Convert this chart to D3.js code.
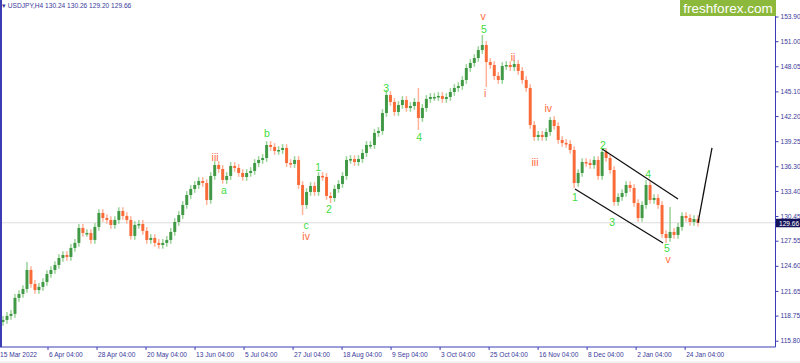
<!DOCTYPE html>
<html>
<head>
<meta charset="utf-8">
<script src="https://cdn.jsdelivr.net/npm/d3@7"></script>
<style>
body { margin:0; background:#fff; }
svg { display:block; }
text { font-family: "Liberation Sans", Arial, sans-serif; }
</style>
</head>
<body>
<div class="graphic"></div>
<script>
var W = 800, H = 363

// closes of each (grouped) H4 candle, USDJPY
var closes = [118.24,118.71,118.95,120.83,121.29,121.88,124.11,122.47,121.76,122.12,
  122.70,123.64,124.11,124.70,125.52,125.87,125.64,126.70,127.29,129.05,
  128.46,128.46,127.64,129.17,130.81,130.22,129.99,129.40,129.99,131.04,
  130.46,129.99,128.11,129.40,129.52,128.70,127.64,127.87,127.29,127.05,
  127.29,127.64,128.58,129.75,130.57,131.75,132.92,133.63,134.10,134.57,
  134.33,132.34,135.16,136.45,135.98,134.69,135.16,136.33,136.10,135.51,
  135.04,135.51,135.75,136.68,137.04,137.27,138.80,138.57,138.10,138.21,
  138.45,136.68,136.57,137.04,134.10,131.75,133.28,133.98,133.28,135.16,
  135.04,132.81,132.57,133.63,134.22,135.16,137.04,137.15,136.80,137.15,
  137.86,138.80,138.80,140.21,140.45,142.56,144.68,143.86,142.68,143.50,
  144.09,143.15,143.38,143.86,141.97,143.15,144.21,144.44,144.44,144.56,
  144.21,144.44,145.03,145.50,145.73,146.44,147.85,148.44,149.02,149.96,
  150.55,148.55,148.20,146.91,146.44,148.08,148.20,147.96,148.32,147.50,
  146.44,145.50,141.15,139.74,139.98,139.74,140.33,141.74,141.03,139.39,
  139.04,138.92,138.21,134.33,135.51,136.80,136.68,136.45,137.04,135.16,
  137.98,137.27,135.86,132.10,132.69,133.16,134.10,133.75,131.98,130.22,
  131.75,134.10,132.34,132.57,131.75,128.34,127.87,128.58,128.23,129.17,
  130.46,130.22,129.75,130.10,129.66]
var firstOpen = 118.0

// extreme wicks [candle, price]
var highSpikes = [[6,125.05],[96,145.26],[104,145.50],[120,151.73],[137,142.09],[150,138.33],[161,134.69],[167,131.51]]
var lowSpikes = [[51,131.75],[32,127.70],[75,130.57],[82,131.98],[104,140.56],[121,145.61],[143,133.75],[166,127.29]]

var priceTicks = [153.90,151.00,148.05,145.10,142.20,139.25,136.30,133.40,130.45,127.55,124.60,121.65,118.75,115.80]
var timeLabels = ["15 Mar 2022","6 Apr 04:00","28 Apr 04:00","20 May 04:00","13 Jun 04:00","5 Jul 04:00",
  "27 Jul 04:00","18 Aug 04:00","9 Sep 04:00","3 Oct 04:00","25 Oct 04:00","16 Nov 04:00",
  "8 Dec 04:00","2 Jan 04:00","24 Jan 04:00"]

// wave counts: text, candle, price, colour group
var waves = [
  ["v",120.2,153.96,"o"],["5",120.4,152.43,"g"],["ii",127.7,149.14,"o"],["i",120.7,144.91,"o"],
  ["iv",136.5,143.15,"o"],["iii",133.2,136.80,"o"],["iii",53.1,137.39,"o"],["a",55.3,133.51,"g"],
  ["b",66.1,140.21,"g"],["1",78.9,136.21,"g"],["2",81.6,131.28,"g"],["c",75.9,129.40,"g"],
  ["iv",75.9,128.11,"o"],["3",95.9,145.50,"g"],["4",104.2,139.74,"g"],["2",150.2,138.80,"g"],
  ["4",161.5,135.39,"g"],["1",143.2,132.69,"g"],["3",152.5,129.75,"g"],["5",166.2,126.70,"g"],
  ["v",166.5,125.40,"o"]]

// drawn lines: channel + projection  [candle, price, candle, price]
var drawnLines = [[150,138.33,169,132.45],[143.2,133.63,165.25,127.29],[174,129.66,177.5,138.45]]

var lastPrice = 129.66

var svg = d3.select(".graphic").append("svg").attr("width", W).attr("height", H)

var x = d3.scaleLinear().domain([0, closes.length-1]).range([3, 698])
var y = d3.scaleLinear().domain([115.80, 153.90]).range([340.7, 16.5])

var axisColor = "#3c3cb4"
var labelColor = "#3a3a9a"

// last price line
svg.append("line").attr("x1",2).attr("x2",775).attr("y1",y(lastPrice)).attr("y2",y(lastPrice))
  .attr("stroke","#dcdcdc").attr("stroke-width",1)

var hiMap = {}, loMap = {}
highSpikes.forEach(function(d){ hiMap[d[0]] = d[1] })
lowSpikes.forEach(function(d){ loMap[d[0]] = d[1] })

var candles = closes.map(function(c,i){
  var o = i == 0 ? firstOpen : closes[i-1]
  var hi = Math.max(o,c) + 0.45, lo = Math.min(o,c) - 0.45
  if (hiMap[i] != null) hi = hiMap[i]
  if (loMap[i] != null) lo = loMap[i]
  return {i:i, o:o, c:c, h:hi, l:lo}
})

var g = svg.append("g")
g.selectAll("line.wick").data(candles).enter().append("line")
  .attr("class","wick")
  .attr("x1",function(d){return x(d.i)}).attr("x2",function(d){return x(d.i)})
  .attr("y1",function(d){return y(d.h)}).attr("y2",function(d){return y(d.l)})
  .attr("stroke",function(d){return d.c >= d.o ? "#9ad39a" : "#ffb39a"})
  .attr("stroke-width",1.5)

g.selectAll("rect").data(candles).enter().append("rect")
  .attr("x",function(d){return x(d.i)-1.5})
  .attr("width",3)
  .attr("y",function(d){return y(Math.max(d.o,d.c))})
  .attr("height",function(d){return Math.max(1.5, Math.abs(y(d.o)-y(d.c)))})
  .attr("fill",function(d){return d.c >= d.o ? "#34913a" : "#f8602a"})
  .attr("fill-opacity",0.9)

// channel lines
svg.selectAll("line.drawn").data(drawnLines).enter().append("line")
  .attr("class","drawn")
  .attr("x1",function(d){return x(d[0])}).attr("y1",function(d){return y(d[1])})
  .attr("x2",function(d){return x(d[2])}).attr("y2",function(d){return y(d[3])})
  .attr("stroke","#111").attr("stroke-width",1.3)

// wave labels
svg.selectAll("text.wave").data(waves).enter().append("text")
  .attr("class","wave")
  .attr("x",function(d){return x(d[1])}).attr("y",function(d){return y(d[2])})
  .attr("text-anchor","middle").attr("dominant-baseline","central")
  .attr("font-size","10.5px")
  .attr("fill",function(d){return d[3]=="g" ? "#3fdc3f" : "#ff6a3d"})
  .text(function(d){return d[0]})

// frame
svg.append("line").attr("x1",1).attr("x2",1).attr("y1",0).attr("y2",347).attr("stroke",axisColor).attr("stroke-width",2)
svg.append("line").attr("x1",0).attr("x2",775.5).attr("y1",347).attr("y2",347).attr("stroke",axisColor).attr("stroke-width",1)
svg.append("line").attr("x1",775.5).attr("x2",775.5).attr("y1",0).attr("y2",347).attr("stroke",axisColor).attr("stroke-width",1)
svg.append("line").attr("x1",0).attr("x2",W).attr("y1",362).attr("y2",362).attr("stroke","#e6e6e6")

// price axis
var yAxis = d3.axisRight(y).tickValues(priceTicks).tickSize(3).tickPadding(2)
  .tickFormat(function(d){return d.toFixed(2)})
var ya = svg.append("g").attr("transform","translate(775.5,0)").call(yAxis)
ya.select(".domain").remove()
ya.selectAll("line").attr("stroke",axisColor)
ya.selectAll("text").attr("fill",labelColor).attr("font-size","6.6px").attr("font-family","Liberation Sans, Arial, sans-serif")

// last price box
svg.append("rect").attr("x",776).attr("y",y(lastPrice)-4).attr("width",24).attr("height",8.5).attr("fill","#14145a")
svg.append("text").attr("x",779).attr("y",y(lastPrice)+0.3).attr("dominant-baseline","central")
  .attr("fill","#fff").attr("font-size","6.6px").text(lastPrice.toFixed(2))

// time axis
var tickStep = 12.27
var tx = svg.append("g")
tx.selectAll("line").data(timeLabels).enter().append("line")
  .attr("x1",function(d,k){return x(k*tickStep-1)}).attr("x2",function(d,k){return x(k*tickStep-1)})
  .attr("y1",347).attr("y2",350).attr("stroke",axisColor)
tx.selectAll("text").data(timeLabels).enter().append("text")
  .attr("x",function(d,k){return Math.max(0, x(k*tickStep-1)+1)})
  .attr("y",357).attr("font-size","6.6px").attr("fill",labelColor)
  .text(function(d){return d})

// header
svg.append("text").attr("x",2).attr("y",7.5).attr("font-size","6.6px").attr("fill",labelColor)
  .text("\u25BE USDJPY,H4  130.24 130.26 129.20 129.66")

// watermark
svg.append("rect").attr("x",680).attr("y",0).attr("width",96).attr("height",16).attr("fill","#8cb83c")
svg.append("text").attr("x",728).attr("y",8.5).attr("text-anchor","middle").attr("dominant-baseline","central")
  .attr("fill","#fff").attr("font-size","13.5px").text("freshforex.com")
</script>
</body>
</html>
